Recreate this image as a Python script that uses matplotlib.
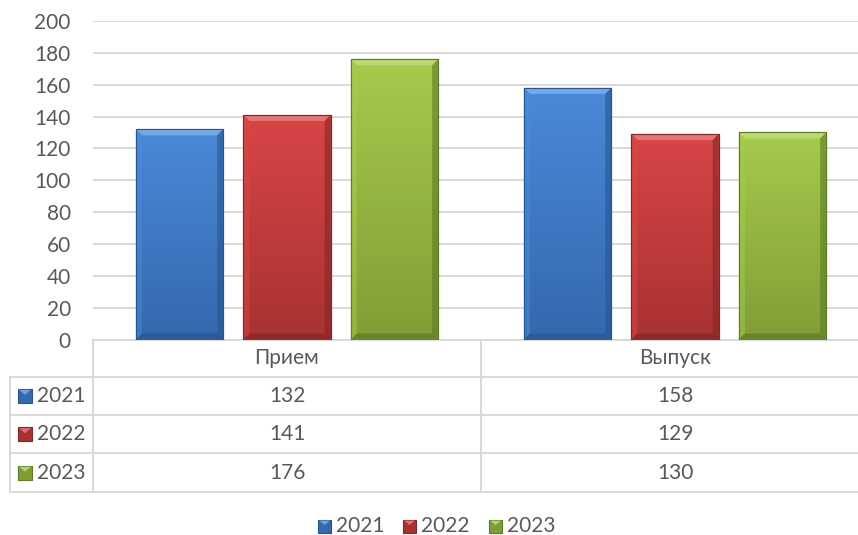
import numpy as np
import matplotlib
matplotlib.use("Agg")
import matplotlib.pyplot as plt
from matplotlib.patches import Rectangle, Polygon
from matplotlib.colors import LinearSegmentedColormap

categories = ["Прием", "Выпуск"]
series_names = ["2021", "2022", "2023"]
values_2021 = [132, 158]
values_2022 = [141, 129]
values_2023 = [176, 130]
y_ticks = [0, 20, 40, 60, 80, 100, 120, 140, 160, 180, 200]

series = [values_2021, values_2022, values_2023]
face_top = ["#4a8ad8", "#d84646", "#a6cb4c"]
face_bot = ["#3568ad", "#a83232", "#809e36"]
edge_dark = ["#27558f", "#832626", "#5f7a26"]
light_bevel = ["#7fb0ea", "#e98080", "#c2de7e"]

W, H = 858, 535
plt.rcParams['font.family'] = ['Lato', 'DejaVu Sans']
txt_col = "#595959"
FS = 15

fig = plt.figure(figsize=(W / 100, H / 100), dpi=100)
fig.patch.set_facecolor("white")

def fx(x):
    return x / W

def fy(y):
    return 1 - y / H

ax_left, ax_right, ax_top, ax_bot = 93, 869, 21, 339.5
ax = fig.add_axes([fx(ax_left), fy(ax_bot), (ax_right - ax_left) / W, (ax_bot - ax_top) / H])
ax.set_xlim(-0.5, 1.5)
ax.set_ylim(0, 200)
ax.set_yticks(y_ticks)
ax.set_yticklabels([str(t) for t in y_ticks], fontsize=FS, color=txt_col)
ax.tick_params(axis="y", length=0, pad=16)
ax.tick_params(axis="x", length=0, labelbottom=False)
ax.set_xticks([])
for s in ["top", "right", "left"]:
    ax.spines[s].set_visible(False)
ax.spines["bottom"].set_color("#d9d9d9")
ax.spines["bottom"].set_linewidth(1.4)
ax.yaxis.grid(True, color="#d9d9d9", linewidth=1.4)
ax.set_axisbelow(True)

x = np.arange(len(categories))
bw = 0.225
offs = [-0.277, 0.0, 0.277]

ppx = (ax_right - ax_left) / 2.0
ppy = (ax_bot - ax_top) / 200.0
bev = 6.0
bx = bev / ppx
by = bev / ppy

for i, vals in enumerate(series):
    bars = ax.bar(x + offs[i], vals, bw, color=face_bot[i], zorder=3,
                  edgecolor=edge_dark[i], linewidth=0.8)
    cmap = LinearSegmentedColormap.from_list("g%d" % i, [face_top[i], face_bot[i]])
    for b in bars:
        x0, w, h = b.get_x(), b.get_width(), b.get_height()
        grad = np.linspace(0, 1, 256).reshape(-1, 1)
        im = ax.imshow(grad, extent=[x0, x0 + w, 0, h], aspect="auto", cmap=cmap,
                       zorder=3.1, origin="upper")
        im.set_clip_path(b)
        top = Polygon([[x0, h], [x0 + w, h], [x0 + w - bx, h - by], [x0 + bx, h - by]],
                      closed=True, facecolor=light_bevel[i], edgecolor="none", alpha=0.8, zorder=3.2)
        left = Polygon([[x0, h], [x0 + bx, h - by], [x0 + bx, by], [x0, 0]],
                       closed=True, facecolor=face_top[i], edgecolor="none", alpha=0.5, zorder=3.2)
        right = Polygon([[x0 + w, h], [x0 + w - bx, h - by], [x0 + w - bx, by], [x0 + w, 0]],
                        closed=True, facecolor=edge_dark[i], edgecolor="none", alpha=0.6, zorder=3.2)
        bottom = Polygon([[x0, 0], [x0 + w, 0], [x0 + w - bx, by], [x0 + bx, by]],
                         closed=True, facecolor=edge_dark[i], edgecolor="none", alpha=0.7, zorder=3.2)
        for p in (top, left, right, bottom):
            ax.add_patch(p)
        ax.add_patch(Rectangle((x0, 0), w, h, fill=False, edgecolor=edge_dark[i],
                               linewidth=0.8, zorder=3.3))

# ---- data table below the axes ----
line_col = "#d9d9d9"
lw = 1.4
row_lines = [376.7, 415.0, 453.3, 492.0]
col_div = [93, 481]
for yl in row_lines:
    fig.add_artist(plt.Line2D([fx(10), fx(W + 20)], [fy(yl), fy(yl)], color=line_col, lw=lw))
for xv in col_div:
    fig.add_artist(plt.Line2D([fx(xv), fx(xv)], [fy(ax_bot), fy(492)], color=line_col, lw=lw))
fig.add_artist(plt.Line2D([fx(10), fx(10)], [fy(376.7), fy(492)], color=line_col, lw=lw))

for ci, cat in enumerate(categories):
    xp = ax.transData.transform((x[ci], 0))[0] / fig.dpi / fig.get_figwidth()
    fig.text(xp, fy(358), cat, ha="center", va="center", fontsize=FS, color=txt_col)
    for ri, vals in enumerate(series):
        yc = (row_lines[ri] + row_lines[ri + 1]) / 2
        fig.text(xp, fy(yc), str(vals[ci]), ha="center", va="center", fontsize=FS, color=txt_col)

def marker(xl, yc, i, size=14):
    fig.add_artist(Rectangle((fx(xl), fy(yc + size / 2)), size / W, size / H,
                             transform=fig.transFigure, facecolor=face_bot[i],
                             edgecolor=edge_dark[i], linewidth=0.8))
    fig.add_artist(Polygon([[fx(xl + 1), fy(yc - size / 2 + 1)], [fx(xl + size - 1), fy(yc - size / 2 + 1)],
                            [fx(xl + size / 2), fy(yc - 1)]], closed=True,
                           transform=fig.transFigure, facecolor=light_bevel[i],
                           edgecolor="none", alpha=0.8))

for ri, name in enumerate(series_names):
    yc = (row_lines[ri] + row_lines[ri + 1]) / 2
    marker(18, yc, ri)
    fig.text(fx(37), fy(yc), name, ha="left", va="center", fontsize=FS, color=txt_col)

# ---- legend ----
leg_x = [318, 403, 489]
for i, name in enumerate(series_names):
    marker(leg_x[i], 526, i, size=13)
    fig.text(fx(leg_x[i] + 18), fy(526), name, ha="left", va="center", fontsize=FS, color=txt_col)

fig.savefig("out.png", dpi=100, facecolor="white")
